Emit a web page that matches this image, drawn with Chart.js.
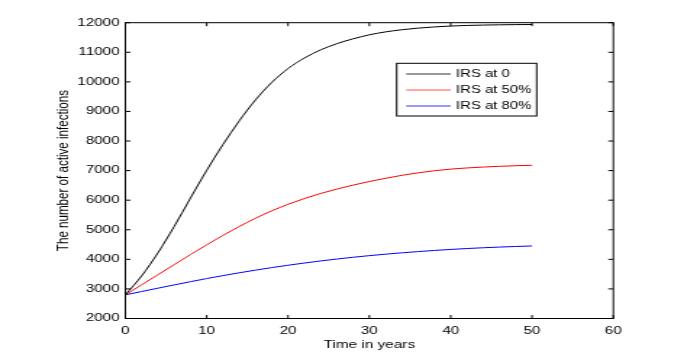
<!DOCTYPE html>
<html><head><meta charset="utf-8">
<script src="https://cdn.jsdelivr.net/npm/chart.js@4.4.0/dist/chart.umd.min.js"></script>
<style>html,body{margin:0;padding:0;background:#fff;} canvas{display:block;}</style>
</head><body>
<canvas id="c" width="483" height="357" style="width:700px;height:357px"></canvas>
<script>
// ---- data ----
const years = [0,2,4,6,8,10,12,14,16,18,20,22,24,26,28,30,32,34,36,38,40,42,44,46,48,50];
const irs0  = [2800,3440,4220,5110,6070,7010,7880,8680,9390,9980,10450,10805,11080,11290,11455,11590,11690,11762,11817,11857,11887,11907,11920,11929,11935,11939];
const irs50 = [2800,3140,3480,3820,4160,4490,4810,5110,5390,5640,5860,6055,6225,6375,6510,6630,6740,6840,6925,6995,7050,7090,7120,7145,7165,7180];
const irs80 = [2800,2912,3025,3135,3245,3350,3450,3545,3635,3720,3800,3875,3945,4010,4070,4125,4175,4220,4262,4300,4335,4365,4392,4415,4435,4452];
const seriesLabels = ['IRS at 0','IRS at 50%','IRS at 80%'];
const xTicks = [0,10,20,30,40,50,60];
const yTicks = [2000,3000,4000,5000,6000,7000,8000,9000,10000,11000,12000];
const xTitle = 'Time in years';
const yTitle = 'The number of active infections';

const FONT = "'Liberation Sans', Arial, Helvetica, sans-serif";
const colors = ['#000000','#ff0000','#0000ff'];
const legendColors = ['#808080','#ff5050','#3030ff'];

function pts(vals){ return years.map((t,i)=>({x:t,y:vals[i]})); }

const framePlugin = {
  id:'frame',
  afterDraw(chart){
    const {ctx, chartArea:a, scales:{x,y}} = chart;
    ctx.save();
    ctx.strokeStyle='#000'; ctx.lineWidth=1;
    ctx.strokeRect(a.left, a.top, a.right-a.left, a.bottom-a.top);
    const tl = 3.5;
    ctx.beginPath();
    xTicks.forEach(v=>{ const p=x.getPixelForValue(v);
      ctx.moveTo(p,a.bottom); ctx.lineTo(p,a.bottom-tl);
      ctx.moveTo(p,a.top); ctx.lineTo(p,a.top+tl); });
    yTicks.forEach(v=>{ const p=y.getPixelForValue(v);
      ctx.moveTo(a.left,p); ctx.lineTo(a.left+tl,p);
      ctx.moveTo(a.right,p); ctx.lineTo(a.right-tl,p); });
    ctx.stroke();
    // legend
    const bx=273.7, by=63.3, bw=96.6, bh=52.7;
    ctx.fillStyle='#fff'; ctx.fillRect(bx,by,bw,bh);
    ctx.strokeStyle='#000'; ctx.lineWidth=1; ctx.strokeRect(bx,by,bw,bh);
    ctx.font = '10.3px '+FONT; ctx.textBaseline='middle'; ctx.textAlign='left';
    chart.data.datasets.forEach((ds,i)=>{
      const ry = 74 + i*16;
      ctx.beginPath(); ctx.strokeStyle=legendColors[i]; ctx.lineWidth = i===0?1.6:1;
      ctx.moveTo(280.2,ry); ctx.lineTo(311,ry); ctx.stroke();
      ctx.fillStyle='#000'; ctx.fillText(ds.label, 314.6, ry+0.5);
    });
    ctx.restore();
  }
};

new Chart(document.getElementById('c'), {
  type:'line',
  data:{ datasets:[
    {label:seriesLabels[0], data:pts(irs0), borderColor:colors[0], borderWidth:1, pointRadius:0, cubicInterpolationMode:'monotone', fill:false},
    {label:seriesLabels[1], data:pts(irs50), borderColor:colors[1], borderWidth:1, pointRadius:0, cubicInterpolationMode:'monotone', fill:false},
    {label:seriesLabels[2], data:pts(irs80), borderColor:colors[2], borderWidth:1, pointRadius:0, cubicInterpolationMode:'monotone', fill:false}
  ]},
  options:{
    responsive:false, animation:false, devicePixelRatio:1,
    layout:{padding:{top:22.7, right:59.8, left:0, bottom:0}},
    plugins:{legend:{display:false}, tooltip:{enabled:false}},
    scales:{
      x:{type:'linear', min:0, max:60,
         grid:{display:false, drawTicks:false}, border:{display:false},
         afterBuildTicks:s=>{ s.ticks = xTicks.map(v=>({value:v})); },
         afterFit:s=>{ s.height = 38.5; },
         ticks:{color:'#000', font:{family:FONT,size:10.5}, padding:6.5, maxRotation:0, autoSkip:false, callback:v=>String(v)},
         title:{display:true, text:xTitle, color:'#000', font:{family:FONT,size:10.6}, padding:{top:0,bottom:6}}
      },
      y:{type:'linear', min:2000, max:12000,
         grid:{display:false, drawTicks:false}, border:{display:false},
         afterBuildTicks:s=>{ s.ticks = yTicks.map(v=>({value:v})); },
         afterFit:s=>{ s.width = 86.5; },
         ticks:{color:'#000', font:{family:FONT,size:10.5}, padding:4, autoSkip:false, callback:v=>String(v)},
         title:{display:true, text:yTitle, color:'#000', font:{family:FONT,size:11.6}, padding:{top:37.3,bottom:0}}
      }
    }
  },
  plugins:[framePlugin]
});
</script>
</body></html>
